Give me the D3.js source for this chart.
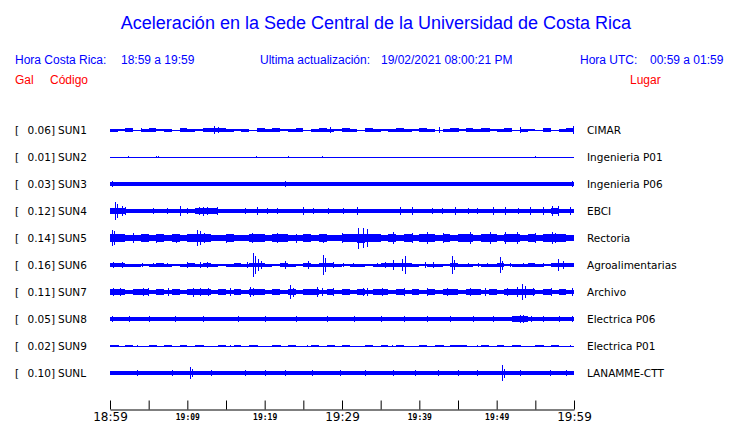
<!DOCTYPE html>
<html><head><meta charset="utf-8">
<script src="https://cdn.jsdelivr.net/npm/d3@7"></script>
<style>body{margin:0;background:#fff}svg{display:block}</style>
</head><body><svg id="c" width="740" height="423"></svg>
<script>
// ---------- data (amplitudes in mGal, time in minutes after 18:59) ----------
const codes  = ["SUN1","SUN2","SUN3","SUN4","SUN5","SUN6","SUN7","SUN8","SUN9","SUNL"];
const places = ["CIMAR","Ingenieria P01","Ingenieria P06","EBCI","Rectoria","Agroalimentarias","Archivo","Electrica P06","Electrica P01","LANAMME-CTT"];
const peaksGal = ["0.06","0.01","0.03","0.12","0.14","0.16","0.11","0.05","0.02","0.10"];
const tickMinutes = [0,5,10,15,20,25,30,35,40,45,50,55,60];
const tickLabels  = ["18:59","","19:09","","19:19","","19:29","","19:39","","19:49","","19:59"];
const bigTickLabels = ["18:59","19:29","19:59"];

const bandSUN1 = [20,8,22,6,20,22,8,20,6,22, 20,8,22,24,22,20,8,20,6,22, 20,22,8,20,22,6,20,22,20,8, 22,20,6,22,20,8,20,22,20,8, 22,20,6,20,22,8,22,20,22,8, 20,22,6,20,8,6,22,6,20,22, 22];
const spikesSUN1 = [[4,28],[9,28],[13.5,50],[14,38],[19,30],[28.5,40],[37,30],[42.5,40],[45,32],[49,30],[53,40],[56,28],[59.9,58]];
const bandSUN2 = [5,4,5,5,4,5,5,4,5,5, 4,5,5,4,5,5,4,5,5,4, 5,5,4,5,5,4,5,5,4,5, 5,4,5,5,4,5,5,4,5,5, 4,5,5,4,5,5,4,5,5,4, 5,5,4,5,5,4,5,5,4,5, 5];
const spikesSUN2 = [[2.3,12],[6,14],[6.2,14],[18.9,12],[23,10],[27.4,12],[55,12]];
const bandSUN3 = [25,27,25,25,27,25,25,26,25,27, 25,25,27,25,25,26,25,27,25,25, 27,25,25,26,25,27,25,25,26,25, 27,25,25,26,25,27,25,25,26,25, 27,25,25,26,25,27,25,25,26,25, 27,25,25,26,25,27,25,25,26,27, 27];
const spikesSUN3 = [[0.2,34],[3.9,32],[7.6,32],[8.2,30],[10.8,32],[17.6,30],[22.6,34],[27.3,30],[30.8,32],[33.3,32],[36.9,30],[38.2,32],[40.4,30],[46.2,32],[52.8,30],[54.3,30],[59.8,34]];
const bandSUN4 = [38,36,28,28,26,28,28,28,28,31, 28,38,42,40,28,28,26,28,28,30, 28,28,26,28,28,30,28,28,28,30, 28,28,30,28,26,28,28,30,28,31, 28,30,28,28,31,28,30,28,28,30, 28,30,28,30,28,31,32,34,30,30, 30];
const spikesSUN4 = [[0.65,120],[0.9,95],[1.55,70],[2,50],[5.6,40],[7.4,40],[9.1,65],[10,45],[11.5,55],[12,60],[12.6,50],[13.8,48],[17.5,45],[19,50],[20.3,45],[21.6,40],[25,48],[26.3,40],[28.2,45],[30.1,40],[32,48],[37.5,48],[39,55],[41.6,45],[42.9,45],[44.6,55],[46.3,45],[47.5,45],[49.5,48],[51.1,55],[52.8,45],[54.3,48],[56,52],[57.2,70],[57.9,65],[59.5,48]];
const bandSUN5 = [50,48,45,46,48,45,47,46,48,45, 48,55,52,46,45,47,46,45,50,48, 46,52,48,46,45,47,46,48,46,45, 48,50,60,58,48,46,50,46,48,46, 50,52,46,48,46,50,52,46,48,50, 46,52,48,46,48,46,50,55,48,46, 46];
const spikesSUN5 = [[0.26,110],[0.5,90],[3,65],[6,60],[8.5,60],[11.25,110],[11.6,95],[12.2,70],[15,60],[18.4,70],[21.6,70],[24,60],[27.5,60],[30,65],[32.1,140],[32.7,130],[33.2,120],[36.6,75],[39,65],[41,85],[43,65],[46.6,75],[49.1,80],[51.1,85],[52.6,75],[55,65],[57.2,85],[57.5,70]];
const bandSUN6 = [22,24,20,20,18,20,22,20,18,20, 22,20,24,20,18,20,22,20,26,24, 20,18,22,20,18,22,20,24,22,20, 18,20,20,18,20,22,22,24,22,20, 18,20,20,18,22,20,20,18,20,20, 22,18,20,20,22,20,18,22,24,22, 22];
const spikesSUN6 = [[0.4,40],[1.55,45],[4.1,30],[5.6,30],[7.4,30],[10,40],[11.6,35],[12.5,40],[16.2,30],[17.7,40],[18.5,160],[18.8,120],[19.1,80],[19.5,50],[22.6,50],[25.6,55],[27.5,135],[27.8,90],[28.8,35],[30.1,30],[31.4,30],[34.5,30],[35.6,35],[36.6,65],[37.8,80],[38.1,120],[40.7,40],[41.8,35],[44.2,120],[44.5,70],[46.3,30],[47.6,30],[48.8,30],[50.4,105],[50.7,60],[51.7,30],[53.4,30],[54.7,30],[56,30],[57.9,80],[58.6,50]];
const bandSUN7 = [36,34,32,34,36,32,34,32,34,32, 36,36,34,32,34,32,34,32,36,34, 32,34,32,34,32,34,36,32,34,32, 34,32,34,32,34,36,32,34,32,34, 32,34,32,36,34,32,34,36,32,34, 32,36,38,36,34,32,34,32,34,32, 32];
const spikesSUN7 = [[0.4,55],[1.3,50],[4.3,55],[4.9,55],[7.5,48],[10.7,60],[11.6,55],[12.7,48],[15.5,48],[18.1,65],[18.5,55],[23.3,90],[23.7,60],[26.8,70],[27.4,55],[28.8,48],[32.7,48],[33.2,50],[35.2,55],[38,48],[41,48],[43.6,50],[46.6,48],[48.5,48],[51.3,55],[52.6,70],[53.3,110],[53.6,80],[54.7,50],[57,48],[59.7,55]];
const bandSUN8 = [28,24,28,24,28,24,28,24,30,28, 24,28,24,28,24,28,24,28,24,28, 24,28,24,28,24,28,24,28,24,28, 24,28,24,28,24,28,24,28,24,28, 24,28,24,28,30,28,30,28,30,32, 30,32,34,34,32,30,32,30,28,30, 30];
const spikesSUN8 = [[0.3,38],[2.5,38],[5,36],[8.4,36],[12,35],[16.5,36],[20,36],[24,35],[28,38],[31.5,35],[35,36],[38,38],[41,36],[44,36],[47,38],[49.5,40],[52,42],[53,48],[53.4,50],[54.5,42],[56,40],[58,38],[59.8,40]];
const bandSUN9 = [12,6,12,6,6,12,6,12,6,12, 6,12,6,6,12,6,12,6,12,6, 6,12,6,12,6,6,12,6,12,6, 12,6,6,12,6,12,6,12,6,6, 12,6,12,6,12,12,6,6,12,6, 12,6,12,6,6,12,6,12,6,6, 6];
const spikesSUN9 = [[1,18],[3.5,18],[6,18],[9,18],[12,16],[15.5,18],[19,16],[22,18],[25.5,16],[29,18],[33,16],[36.5,18],[40,18],[43,16],[46,18],[47.5,18],[50,16],[53,18],[56,16],[59.5,18]];
const bandSUNL = [28,27,26,27,28,26,27,28,27,28, 29,27,26,27,28,26,27,28,26,27, 28,26,27,28,27,26,27,28,26,27, 28,27,26,27,28,26,27,28,26,27, 28,27,26,27,28,26,27,28,26,27, 28,27,26,27,28,26,27,28,26,27, 27];
const spikesSUNL = [[3.5,42],[8,42],[10.3,80],[10.6,55],[13,35],[17.5,40],[20,35],[22.6,38],[26.1,38],[29.7,38],[33,35],[36.6,38],[39.4,38],[42.4,38],[45,35],[47.4,38],[50.7,107],[51,60],[53,35],[56.9,45],[59,35]];

const bands  = {SUN1:bandSUN1,SUN2:bandSUN2,SUN3:bandSUN3,SUN4:bandSUN4,SUN5:bandSUN5,SUN6:bandSUN6,SUN7:bandSUN7,SUN8:bandSUN8,SUN9:bandSUN9,SUNL:bandSUNL};
const spikes = {SUN1:spikesSUN1,SUN2:spikesSUN2,SUN3:spikesSUN3,SUN4:spikesSUN4,SUN5:spikesSUN5,SUN6:spikesSUN6,SUN7:spikesSUN7,SUN8:spikesSUN8,SUN9:spikesSUN9,SUNL:spikesSUNL};

// ---------- drawing ----------
const BLUE = "#0000ff", RED = "#ff0000";
const svg = d3.select("#c");
const x = d3.scaleLinear().domain([0,60]).range([110,574]);
const row = d3.scalePoint().domain(codes).range([130,373]);
const amp = d3.scaleLinear().domain([0,160]).range([0,12]);

// header
const sans = "'Liberation Sans', Arial, sans-serif";
svg.append("text").attr("x",376).attr("y",29).attr("text-anchor","middle")
  .attr("font-family",sans).attr("font-size",18).attr("fill",BLUE)
  .text("Aceleración en la Sede Central de la Universidad de Costa Rica");
const hdr = [[15,"Hora Costa Rica:"],[121,"18:59 a 19:59"],[260,"Ultima actualización:"],[381,"19/02/2021 08:00:21 PM"],[580,"Hora UTC:"],[650,"00:59 a 01:59"]];
svg.selectAll("text.hdr").data(hdr).join("text").attr("class","hdr")
  .attr("x",d=>d[0]).attr("y",64).attr("font-family",sans).attr("font-size",12).attr("fill",BLUE).text(d=>d[1]);
const red = [[15,"Gal"],[50,"Código"],[630,"Lugar"]];
svg.selectAll("text.red").data(red).join("text").attr("class","red")
  .attr("x",d=>d[0]).attr("y",84).attr("font-family",sans).attr("font-size",12).attr("fill",RED).text(d=>d[1]);

// traces
const lab = "'DejaVu Sans', sans-serif";
codes.forEach((c,i)=>{
  const yc = Math.round(row(c));
  const g = svg.append("g");
  const area = d3.area().x((d,j)=>x(j)).y0(d=>yc+amp(d)).y1(d=>yc-amp(d)).curve(d3.curveStepAfter);
  g.append("path").datum(bands[c]).attr("d",area).attr("fill",BLUE).attr("shape-rendering","crispEdges");
  g.append("line").attr("x1",x(0)).attr("x2",x(60)).attr("y1",yc+0.5).attr("y2",yc+0.5)
    .attr("stroke",BLUE).attr("stroke-width",1);
  g.selectAll("line.s").data(spikes[c]).join("line").attr("class","s")
    .attr("x1",d=>Math.round(x(d[0]))+0.5).attr("x2",d=>Math.round(x(d[0]))+0.5)
    .attr("y1",d=>yc-amp(d[1])).attr("y2",d=>yc+amp(d[1]))
    .attr("stroke",BLUE).attr("stroke-width",1.5).attr("shape-rendering","crispEdges");
  // labels
  svg.append("text").attr("x",15).attr("y",yc+4).attr("font-family",lab).attr("font-size",10.5).attr("fill","#000").text("[");
  svg.append("text").attr("x",55).attr("y",yc+4).attr("text-anchor","end").attr("font-family",lab).attr("font-size",10.5).attr("fill","#000").text(peaksGal[i]+"]");
  svg.append("text").attr("x",58).attr("y",yc+4).attr("font-family",lab).attr("font-size",10.5).attr("fill","#000").text(c);
  svg.append("text").attr("x",587).attr("y",yc+4).attr("font-family",lab).attr("font-size",10.5).attr("fill","#000").text(places[i]);
});

// time axis
const axis = d3.axisBottom(x).tickValues(tickMinutes).tickSizeInner(-9).tickSizeOuter(0)
  .tickFormat((d,i)=>tickLabels[i]);
const ag = svg.append("g").attr("transform","translate(0,409.5)").call(axis);
ag.select(".domain").attr("stroke","#000");
ag.selectAll(".tick line").attr("stroke","#000");
ag.selectAll(".tick text").each(function(){
  const t = d3.select(this);
  const big = bigTickLabels.includes(t.text());
  t.attr("fill","#000").attr("dy",null)
   .attr("y", big ? 11.5 : 10)
   .attr("font-family", big ? lab : "'DejaVu Sans Mono', monospace")
   .attr("font-weight", big ? "normal" : "bold")
   .attr("font-size", big ? 12 : 8);
});
</script>
</body></html>
